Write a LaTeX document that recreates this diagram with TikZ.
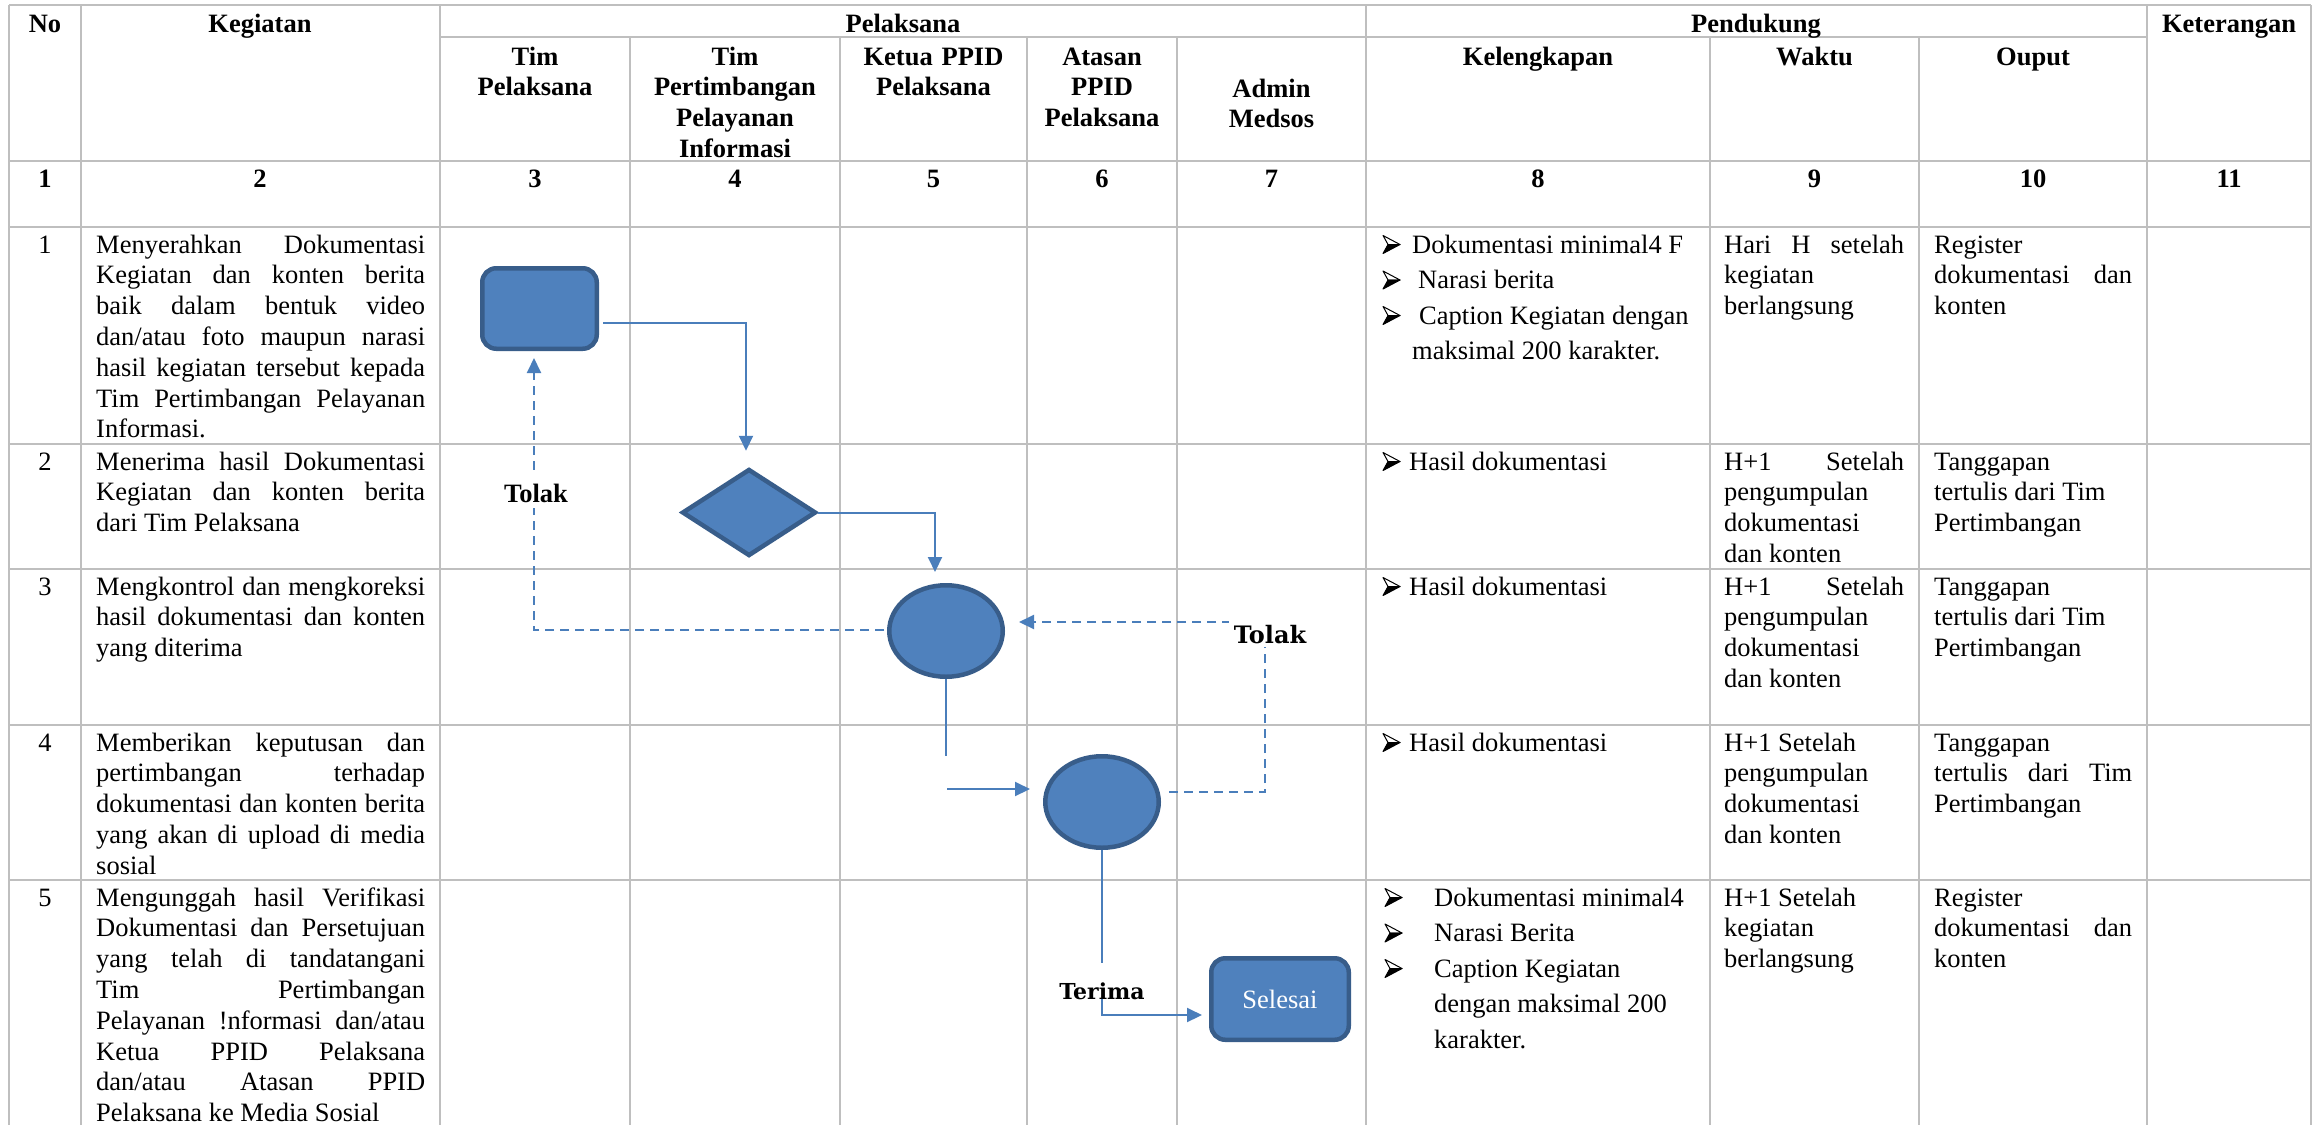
\documentclass[tikz,border=0pt]{standalone}
\usepackage{fontspec}
\setmainfont{Liberation Serif}
\newfontfamily\dvserif{DejaVu Serif}
\usetikzlibrary{shapes.geometric,arrows.meta}
\definecolor{shapefill}{HTML}{4F81BD}
\definecolor{shapeline}{HTML}{385D8A}
\definecolor{conncol}{HTML}{4A7EBB}
\definecolor{gridcol}{HTML}{BFBFBF}
\tolerance=10000 \hyphenpenalty=10000 \exhyphenpenalty=10000 \hbadness=10000
\begin{document}
\begin{tikzpicture}[x=1pt,y=-1pt,
  gridline/.style={draw=gridcol,line width=2pt},
  body/.style={font=\fontsize{26.5}{30.8}\selectfont,inner sep=0pt,anchor=base west,align=justify},
  hd/.style={font=\fontsize{26.5}{30.8}\selectfont\bfseries,inner sep=0pt,anchor=base,align=center,text width=200pt},
  num/.style={font=\fontsize{26.5}{30.8}\selectfont,inner sep=0pt,anchor=base},
  bnum/.style={font=\fontsize{26.5}{30.8}\selectfont\bfseries,inner sep=0pt,anchor=base},
  itm/.style={font=\fontsize{26.5}{30.8}\selectfont,inner sep=0pt,anchor=base west},
  bullet/.pic={
    \filldraw[fill=white,draw=black,line width=1pt,line join=round] (0,-9) -- (17,0) -- (5,0) -- cycle;
    \filldraw[fill=black,draw=black,line width=1pt,line join=round] (5,0) -- (17,0) -- (0,9) -- cycle;
  },
  flow/.style={draw=shapeline,fill=shapefill,line width=4.5pt,inner sep=0pt},
  conn/.style={draw=conncol,line width=2pt,-{Triangle[length=15pt,width=14pt]}},
  connline/.style={draw=conncol,line width=2pt},
  dconn/.style={conn,dash pattern=on 9pt off 6pt},
  lblA/.style={font=\fontsize{26.5}{26.5}\selectfont\bfseries,fill=white,inner xsep=2pt,inner ysep=0pt,anchor=base},
  lblB/.style={font=\dvserif\bfseries\fontsize{24}{24}\selectfont,fill=white,inner ysep=0pt,anchor=base}
]
\fill[white] (0,0) rectangle (2314,1125);
\useasboundingbox (0,0) rectangle (2314,1125);

% ---------- grid ----------
\draw[gridline] (9,5) -- (2311,5);
\draw[gridline] (440,37) -- (2147,37);
\draw[gridline,line width=2.5pt] (9,161) -- (2311,161);
\draw[gridline,line width=2.5pt] (9,227) -- (2311,227);
\draw[gridline] (9,444) -- (2311,444);
\draw[gridline] (9,569) -- (2311,569);
\draw[gridline] (9,725) -- (2311,725);
\draw[gridline] (9,880) -- (2311,880);
\foreach \xx in {9,81,440,1366,2147,2311} {\draw[gridline] (\xx,5) -- (\xx,1125);}
\foreach \xx in {630,840,1027,1177,1710,1919} {\draw[gridline] (\xx,37) -- (\xx,1125);}

% ---------- headers ----------
\node[hd] (hno) at (45,32) {No};
\node[hd] (hkeg) at (260,32) {Kegiatan};
\node[hd] (hpel) at (903,32) {Pelaksana};
\node[hd] (hpen) at (1756,32) {Pendukung};
\node[hd] (hket) at (2229,32) {Keterangan};
\node[hd] (h3) at (535,65) {Tim\\Pelaksana};
\node[hd] (h4) at (735,65) {Tim\\Pertimbangan\\Pelayanan\\Informasi};
\node[hd] (h5) at (933.5,65) {Ketua PPID\\Pelaksana};
\node[hd] (h6) at (1102,65) {Atasan\\PPID\\Pelaksana};
\node[hd] (h7) at (1271.5,97) {Admin\\Medsos};
\node[hd] (h8) at (1538,65) {Kelengkapan};
\node[hd] (h9) at (1814.5,65) {Waktu};
\node[hd] (h10) at (2033,65) {Ouput};

\node[bnum] (n1) at (45,187) {1};
\node[bnum] (n2) at (260,187) {2};
\node[bnum] (n3) at (535,187) {3};
\node[bnum] (n4) at (735,187) {4};
\node[bnum] (n5) at (933.5,187) {5};
\node[bnum] (n6) at (1102,187) {6};
\node[bnum] (n7) at (1271.5,187) {7};
\node[bnum] (n8) at (1538,187) {8};
\node[bnum] (n9) at (1814.5,187) {9};
\node[bnum] (n10) at (2033,187) {10};
\node[bnum] (n11) at (2229,187) {11};

% ---------- column 1 ----------
\node[num] (r1no) at (45,253) {1};
\node[num] (r2no) at (45,470) {2};
\node[num] (r3no) at (45,595) {3};
\node[num] (r4no) at (45,751) {4};
\node[num] (r5no) at (45,906) {5};

% ---------- column 2 ----------
\node[body,text width=329pt] (k1) at (96,253) {Menyerahkan Dokumentasi\linebreak Kegiatan dan konten berita\linebreak baik dalam bentuk video\linebreak dan/atau foto maupun narasi\linebreak hasil kegiatan tersebut kepada\linebreak Tim Pertimbangan Pelayanan\linebreak Informasi.};
\node[body,text width=329pt] (k2) at (96,470) {Menerima hasil Dokumentasi\linebreak Kegiatan dan konten berita\linebreak dari Tim Pelaksana};
\node[body,text width=329pt] (k3) at (96,595) {Mengkontrol dan mengkoreksi\linebreak hasil dokumentasi dan konten\linebreak yang diterima};
\node[body,text width=329pt] (k4) at (96,751) {Memberikan keputusan dan\linebreak pertimbangan terhadap\linebreak dokumentasi dan konten berita\linebreak yang akan di upload di media\linebreak sosial};
\node[body,text width=329pt] (k5) at (96,906) {Mengunggah hasil Verifikasi\linebreak Dokumentasi dan Persetujuan\linebreak yang telah di tandatangani\linebreak Tim Pertimbangan\linebreak Pelayanan !nformasi dan/atau\linebreak Ketua PPID Pelaksana\linebreak dan/atau Atasan PPID\linebreak Pelaksana ke Media Sosial};

% ---------- column 8 ----------
\pic (bu11) at (1383,244.5) {bullet};
\pic (bu12) at (1383,280) {bullet};
\pic (bu13) at (1383,315.5) {bullet};
\node[itm] (t11) at (1412,253) {Dokumentasi minimal4 F};
\node[itm] (t12) at (1418,288.5) {Narasi berita};
\node[itm] (t13) at (1419,324) {Caption Kegiatan dengan};
\node[itm] (t14) at (1412,359.5) {maksimal 200 karakter.};
\pic (bu21) at (1383,461.5) {bullet};
\node[itm] (t21) at (1409,470) {Hasil dokumentasi};
\pic (bu31) at (1383,586.5) {bullet};
\node[itm] (t31) at (1409,595) {Hasil dokumentasi};
\pic (bu41) at (1383,742.5) {bullet};
\node[itm] (t41) at (1409,751) {Hasil dokumentasi};
\pic (bu51) at (1385,897.5) {bullet};
\pic (bu52) at (1385,933) {bullet};
\pic (bu53) at (1385,968.5) {bullet};
\node[itm] (t51) at (1434,906) {Dokumentasi minimal4};
\node[itm] (t52) at (1434,941.5) {Narasi Berita};
\node[itm] (t53) at (1434,977) {Caption Kegiatan};
\node[itm] (t54) at (1434,1012.5) {dengan maksimal 200};
\node[itm] (t55) at (1434,1048) {karakter.};

% ---------- column 9 ----------
\node[body,text width=180pt] (w1) at (1724,253) {Hari H setelah\linebreak kegiatan\\berlangsung};
\node[body,text width=180pt] (w2) at (1724,470) {H+1 Setelah\linebreak pengumpulan\\dokumentasi\\dan konten};
\node[body,text width=180pt] (w3) at (1724,595) {H+1 Setelah\linebreak pengumpulan\\dokumentasi\\dan konten};
\node[body,text width=180pt] (w4) at (1724,751) {H+1 Setelah\\pengumpulan\\dokumentasi\\dan konten};
\node[body,text width=180pt] (w5) at (1724,906) {H+1 Setelah\\kegiatan\\berlangsung};

% ---------- column 10 ----------
\node[body,text width=198pt] (o1) at (1934,253) {Register\\dokumentasi dan\linebreak konten};
\node[body,text width=198pt] (o2) at (1934,470) {Tanggapan\\tertulis dari Tim\\Pertimbangan};
\node[body,text width=198pt] (o3) at (1934,595) {Tanggapan\\tertulis dari Tim\\Pertimbangan};
\node[body,text width=198pt] (o4) at (1934,751) {Tanggapan\\tertulis dari Tim\linebreak Pertimbangan};
\node[body,text width=198pt] (o5) at (1934,906) {Register\\dokumentasi dan\linebreak konten};

% ---------- flow shapes ----------
\node[flow,rounded corners=14pt,minimum width=114.5pt,minimum height=80.5pt] (r1) at (539.5,308.5) {};
\node[flow,diamond,minimum width=134pt,minimum height=87pt] (d1) at (749,512.5) {};
\node[flow,ellipse,minimum width=113.5pt,minimum height=91.5pt] (e1) at (946,631) {};
\node[flow,ellipse,minimum width=113.5pt,minimum height=91.5pt] (e2) at (1102,802) {};
\node[flow,rounded corners=14pt,minimum width=137.5pt,minimum height=81.5pt,text=white,font=\fontsize{26.5}{26.5}\selectfont] (sel) at (1280,999) {Selesai};

% ---------- connectors ----------
\coordinate (k1c) at (946,756);
\coordinate (k2c) at (947,789);
\coordinate (c3) at (1265,622);
\draw[conn] ([shift={(4,14.5)}]r1.east) -| ([shift={(-3,-16)}]d1.north);
\draw[conn] (d1.east) -| ([shift={(-11,-11)}]e1.north);
\draw[dconn] ([shift={(-3,-1.5)}]e1.west) -| ([shift={(-5.5,7)}]r1.south);
\draw[connline] (e1.south) -- (k1c);
\draw[conn] (k2c) -- ([shift={(-13,-13)}]e2.west);
\draw[dconn] ([shift={(8,-10)}]e2.east) -| (c3) -- ([shift={(14,-9)}]e1.east);
\draw[conn] (e2.south) |- ([shift={(-7,16)}]sel.west);

% ---------- labels ----------
\node[lblA,text height=29pt,text depth=6pt] (tolak1) at (536,502) {Tolak};
\node[lblB,inner xsep=5pt,text height=23pt,text depth=4pt] (tolak2) at (1270,643) {Tolak};
\node[lblB,font=\dvserif\bfseries\fontsize{22}{22}\selectfont,inner xsep=3pt,text height=36pt,text depth=0pt] (terima) at (1102,999) {Terima};
\end{tikzpicture}
\end{document}
